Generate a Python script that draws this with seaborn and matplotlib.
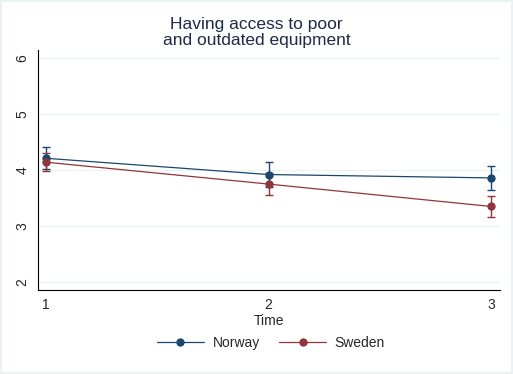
import numpy as np
import pandas as pd
import matplotlib
matplotlib.use("Agg")
import matplotlib.pyplot as plt
import seaborn as sns

# values
time = [1, 2, 3]
norway_mean = [4.21, 3.92, 3.86]
norway_lo = [4.01, 3.69, 3.65]
norway_hi = [4.41, 4.15, 4.08]
sweden_mean = [4.14, 3.75, 3.35]
sweden_lo = [3.98, 3.55, 3.16]
sweden_hi = [4.31, 3.95, 3.54]
countries = ["Norway", "Sweden"]
colors = {"Norway": "#1a476f", "Sweden": "#90353b"}

sns.set_style("white")
plt.rcParams['font.family'] = ['Liberation Sans', 'DejaVu Sans']

df = pd.DataFrame({
    "Time": time * 2,
    "Mean": norway_mean + sweden_mean,
    "lo": norway_lo + sweden_lo,
    "hi": norway_hi + sweden_hi,
    "Country": ["Norway"] * 3 + ["Sweden"] * 3,
})

fig = plt.figure(figsize=(5.13, 3.74), dpi=100)
ax = fig.add_axes([0.074, 0.2246, 0.901, 0.6414])

# grid lines first
for y in [2, 3, 4, 5, 6]:
    ax.axhline(y, color="#eaf2f3", lw=0.8, zorder=0)

for c in countries:
    sub = df[df["Country"] == c]
    ax.errorbar(sub["Time"], sub["Mean"],
                yerr=[sub["Mean"] - sub["lo"], sub["hi"] - sub["Mean"]],
                fmt="none", ecolor=colors[c], elinewidth=1.0, capsize=3,
                capthick=1.0, zorder=2)

sns.lineplot(data=df, x="Time", y="Mean", hue="Country", palette=colors,
             marker="o", markersize=6, markeredgewidth=0, linewidth=0.9,
             ax=ax, zorder=3)

ax.set_xlim(0.964, 3.04)
ax.set_ylim(1.86, 6.14)
ax.set_xticks(time)
ax.set_yticks([2, 3, 4, 5, 6])
ax.tick_params(axis="both", length=4, width=0.8, color="#000000",
               labelsize=10, direction="out", pad=2)
for lab in ax.get_yticklabels():
    lab.set_rotation(90)
    lab.set_va("center")
ax.set_xlabel("Time", fontsize=10, labelpad=1)
ax.set_ylabel("")
for s in ["top", "right"]:
    ax.spines[s].set_visible(False)
for s in ["left", "bottom"]:
    ax.spines[s].set_color("#000000")
    ax.spines[s].set_linewidth(0.8)

fig.suptitle("Having access to poor\nand outdated equipment", fontsize=12.5,
             color="#1e2a4a", y=0.955, x=0.5, linespacing=1.1)

handles, labels = ax.get_legend_handles_labels()
ax.legend(handles, labels, loc="center", bbox_to_anchor=(0.528, 0.083),
          bbox_transform=fig.transFigure, ncol=2, frameon=False,
          fontsize=10, handlelength=3.4, handletextpad=0.6,
          columnspacing=1.4)

fig.patches.append(plt.Rectangle((0.002, 0.002), 0.996, 0.996,
                                 transform=fig.transFigure, fill=False,
                                 edgecolor="#eaf2f3", lw=1.5))

fig.savefig("out.png", dpi=100)
